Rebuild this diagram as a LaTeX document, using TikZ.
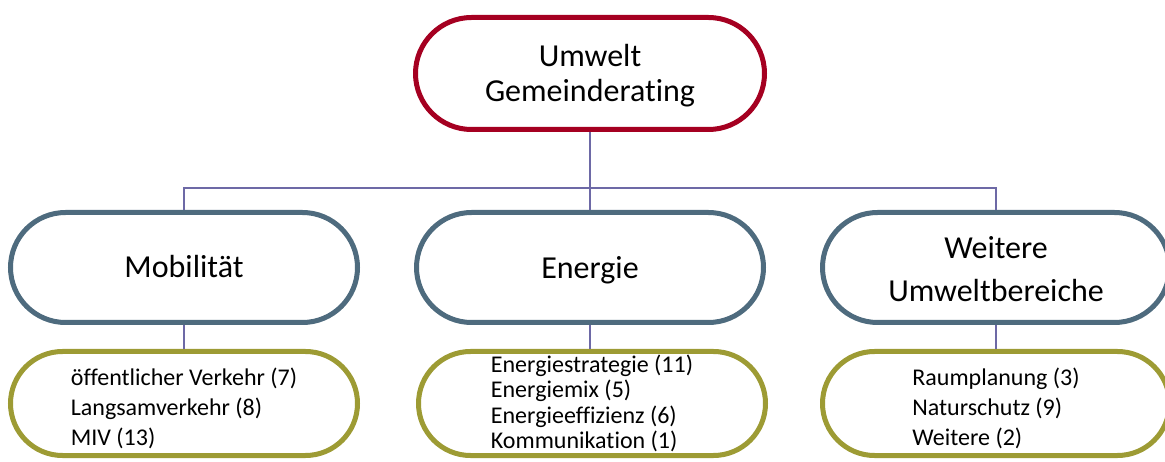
\documentclass[tikz,border=0pt]{standalone}
\usepackage{fontspec}
\setmainfont{Carlito}[Ligatures={NoCommon}]
\usetikzlibrary{shapes.misc}
\definecolor{topred}{RGB}{165,0,33}
\definecolor{midblue}{RGB}{78,107,126}
\definecolor{lowolive}{RGB}{157,155,52}
\definecolor{connc}{RGB}{109,105,166}
\newcommand{\pilltext}[3]{\raisebox{-#1}[\height][\depth]{\begin{tabular}{@{}#2@{}}#3\end{tabular}}}
\tikzset{
  pill/.style={rounded rectangle, rounded rectangle arc length=180, line width=5pt, fill=white, inner sep=0pt},
  topbox/.style={pill, draw=topred, minimum width=349pt, minimum height=112pt, font=\fontsize{32}{35}\selectfont},
  midbox/.style={pill, draw=midblue, minimum width=347pt, minimum height=110pt, font=\fontsize{32}{43}\selectfont},
  lowbox/.style={pill, draw=lowolive, minimum width=347pt, minimum height=104pt, font=\fontsize{24}{30}\selectfont},
  conn/.style={draw=connc, line width=1.5pt},
}
\begin{document}
\begin{tikzpicture}[x=1pt,y=-1pt]
\useasboundingbox (0,0) rectangle (1165,462);
\node[topbox] (top) at (590,73.5) {\pilltext{4pt}{c}{Umwelt\\Gemeinderating}};
\node[midbox] (mob) at (184,267.5) {\pilltext{1pt}{c}{Mobilität}};
\node[midbox] (ene) at (590,267.5) {\pilltext{2pt}{c}{Energie}};
\node[midbox] (wei) at (996,267.5) {\pilltext{4pt}{c}{Weitere\\Umweltbereiche}};
\node[lowbox] (mobs) at (184,403.5) {\pilltext{5.5pt}{l}{öffentlicher Verkehr (7)\\Langsamverkehr (8)\\MIV (13)}};
\node[lowbox, font=\fontsize{24}{25.3}\selectfont] (enes) at (592,403.5) {\pilltext{2pt}{l}{Energiestrategie (11)\\Energiemix (5)\\Energieeffizienz (6)\\Kommunikation (1)}};
\node[lowbox] (weis) at (996,403.5) {\pilltext{5.5pt}{l}{Raumplanung (3)\\Naturschutz (9)\\Weitere (2)}};
\coordinate (bus) at (590,188);
\draw[conn] (top.south) -- (top.south |- bus);
\draw[conn] (mob.north) -- (mob.north |- bus) -- (wei.north |- bus) -- (wei.north);
\draw[conn] (ene.north) -- (ene.north |- bus);
\draw[conn] (mob.south) -- (mobs.north);
\draw[conn] (ene.south) -- (ene.south |- enes.north);
\draw[conn] (wei.south) -- (weis.north);
\end{tikzpicture}
\end{document}
